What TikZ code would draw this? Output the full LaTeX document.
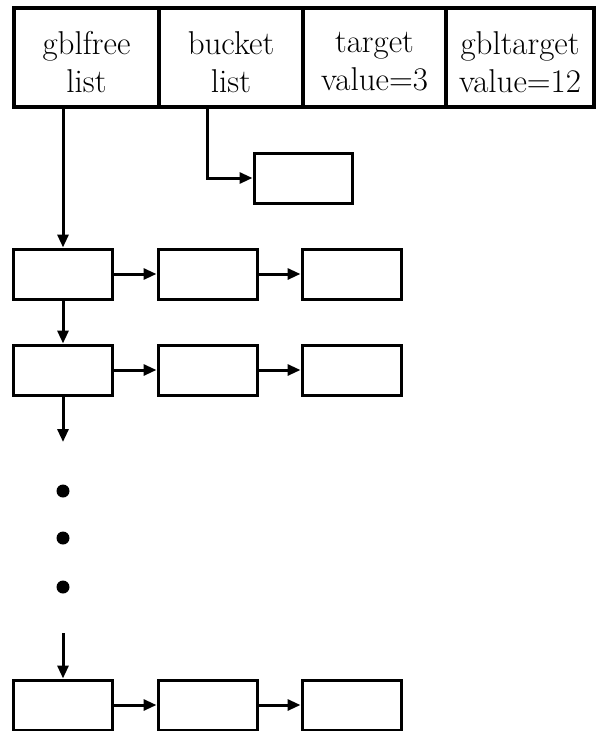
\documentclass[tikz,border=0pt]{standalone}
\usetikzlibrary{arrows.meta}
\begin{document}
\begin{tikzpicture}[x=1pt,y=-1pt,
  line width=3pt,
  hdr/.style={draw, rectangle, inner sep=0pt, minimum height=99pt, line width=4pt},
  hdrtext/.style={align=center, inner sep=0pt, font=\fontsize{33}{38}\selectfont},
  cell/.style={draw, rectangle, inner sep=0pt, minimum width=99pt, minimum height=50pt},
  arr/.style={-{Triangle[length=13pt,width=11pt]}},
  dot/.style={circle, fill, inner sep=0pt, minimum size=13pt}]
\useasboundingbox (0,0) rectangle (596,731);

% header record
\node[hdr, minimum width=145pt] (g1) at (86.5,57.5) {};
\node[hdr, minimum width=144pt] (g2) at (231,57.5) {};
\node[hdr, minimum width=143pt] (g3) at (374.5,57.5) {};
\node[hdr, minimum width=148pt] (g4) at (520,57.5) {};
\node[hdrtext] (t1) at (86.5,62) {gblfree\\list};
\node[hdrtext] (t2) at (231,62) {bucket\\list};
\node[hdrtext] (t3) at (374.5,62) {target\\value=3};
\node[hdrtext] (t4) at (520,62) {gbltarget\\value=12};

% bucket list entry
\node[cell, minimum width=98pt] (bk) at (303,178) {};

% free lists
\node[cell] (r11) at (63,274) {};
\node[cell] (r12) at (207.5,274) {};
\node[cell] (r13) at (351.5,274) {};
\node[cell] (r21) at (63,370) {};
\node[cell] (r22) at (207.5,370) {};
\node[cell] (r23) at (351.5,370) {};
\node[cell] (r31) at (63,705) {};
\node[cell] (r32) at (207.5,705) {};
\node[cell] (r33) at (351.5,705) {};

% ellipsis
\coordinate (gapend) at (63,442);
\node[dot] (d1) at (63,491) {};
\node[dot] (d2) at (63,538) {};
\node[dot] (d3) at (63,587) {};
\coordinate (gapstart) at (63,633);

% connectors
\draw[arr] (g1.south -| r11.north) -- (r11.north);
\draw[arr] ([xshift=-24pt]g2.south) |- (bk.west);
\draw[arr] (r11) -- (r12);
\draw[arr] (r12) -- (r13);
\draw[arr] (r21) -- (r22);
\draw[arr] (r22) -- (r23);
\draw[arr] (r31) -- (r32);
\draw[arr] (r32) -- (r33);
\draw[arr] (r11) -- (r21);
\draw[arr] (r21) -- (gapend);
\draw[arr] (gapstart) -- (r31);
\end{tikzpicture}
\end{document}
